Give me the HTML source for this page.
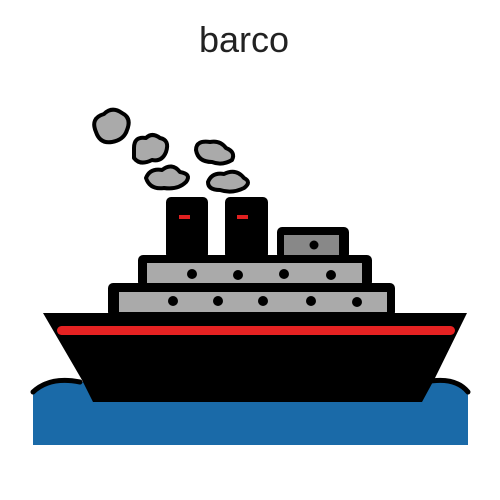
<!DOCTYPE html>
<html><head><style>
html,body{margin:0;padding:0;background:#fff;width:500px;height:500px;overflow:hidden}
</style></head><body>
<svg width="500" height="500" viewBox="0 0 500 500" xmlns="http://www.w3.org/2000/svg">
<text x="244" y="52" text-anchor="middle" font-family="Liberation Sans, sans-serif" font-size="36" fill="#222">barco</text>
<!-- water -->
<path d="M33,392 Q50,376 75,382 L430,382 Q455,376 468,392 L468,445 L33,445 Z" fill="#1a6aa8"/>
<path d="M33,392 Q50,376 80,382 M425,382 Q455,376 468,392" fill="none" stroke="#000" stroke-width="5" stroke-linecap="round"/>
<!-- smoke -->
<g fill="#aaa" stroke="#000" stroke-width="4" stroke-linejoin="round">
<path d="M96,132 Q90,118 104,114 Q112,106 122,113 Q132,118 127,130 Q124,140 112,142 Q100,144 96,132 Z"/>
<path d="M134,148 Q134,136 146,138 Q152,132 160,138 Q170,140 166,152 Q162,162 152,160 Q140,166 134,158 Z"/>
<path d="M146,178 Q150,168 162,170 Q172,162 180,172 Q192,174 186,182 Q178,190 164,188 Q150,190 146,178 Z"/>
<path d="M196,150 Q196,140 210,142 Q220,140 226,148 Q236,152 232,160 Q222,166 212,162 Q198,162 196,150 Z"/>
<path d="M208,182 Q212,172 224,174 Q236,168 244,178 Q252,182 244,188 Q232,194 220,190 Q208,190 208,182 Z"/>
</g>
<!-- funnels -->
<rect x="166" y="197" width="42" height="62" rx="5" fill="#000"/>
<rect x="225" y="197" width="43" height="62" rx="5" fill="#000"/>
<rect x="179" y="215" width="11" height="4" fill="#e02020"/>
<rect x="237" y="215" width="11" height="4" fill="#e02020"/>
<!-- cabin -->
<rect x="277" y="227" width="72" height="32" rx="5" fill="#000"/>
<rect x="284" y="235" width="55" height="21" fill="#888"/>
<circle cx="314" cy="245" r="4.5" fill="#000"/>
<!-- upper deck -->
<rect x="138" y="255" width="234" height="32" rx="5" fill="#000"/>
<rect x="147" y="263" width="215" height="20" fill="#aaa"/>
<g fill="#000"><circle cx="192" cy="274" r="5"/><circle cx="238" cy="275" r="5"/><circle cx="284" cy="274" r="5"/><circle cx="331" cy="275" r="5"/></g>
<!-- lower deck -->
<rect x="108" y="283" width="287" height="34" rx="5" fill="#000"/>
<rect x="119" y="292" width="268" height="20" fill="#aaa"/>
<g fill="#000"><circle cx="173" cy="301" r="5"/><circle cx="218" cy="301" r="5"/><circle cx="263" cy="301" r="5"/><circle cx="311" cy="301" r="5"/><circle cx="357" cy="302" r="5"/></g>
<!-- hull -->
<path d="M43,313 L467,313 L435,378 L422,402 L93,402 L82,380 Z" fill="#000"/>
<rect x="57" y="326" width="398" height="9" rx="4.5" fill="#e52222"/>
</svg>
</body></html>
